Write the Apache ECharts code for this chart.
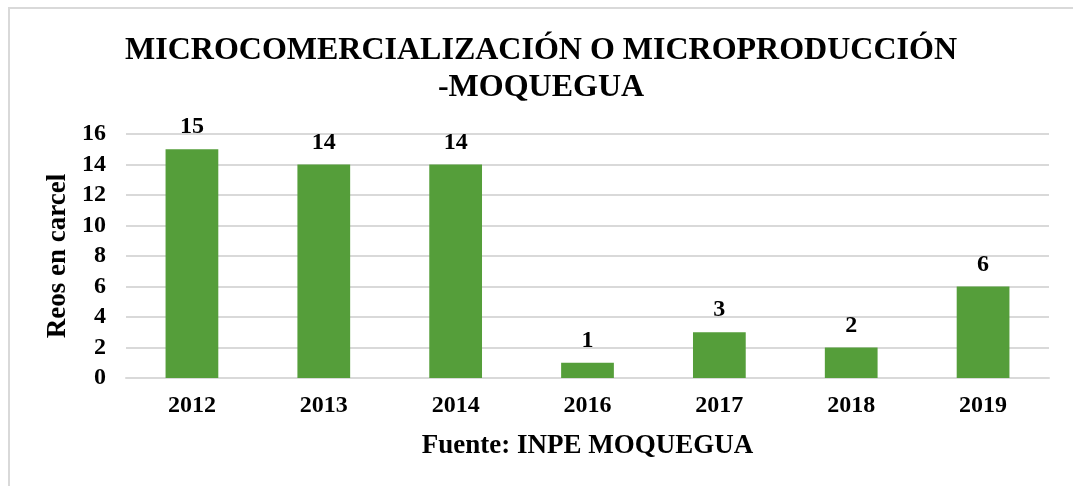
<!DOCTYPE html>
<html>
<head>
<meta charset="utf-8">
<script src="https://cdn.jsdelivr.net/npm/echarts@6/dist/echarts.min.js"></script>
<style>
  html, body { margin: 0; padding: 0; background: #fff; }
  #chart { width: 1073px; height: 486px; }
</style>
</head>
<body>
<div id="chart"></div>
<script>
// datos
var years = ['2012', '2013', '2014', '2016', '2017', '2018', '2019']
var reos = [15, 14, 14, 1, 3, 2, 6]
var yTicks = [0, 2, 4, 6, 8, 10, 12, 14, 16]

var serif = 'Liberation Serif, Times New Roman, serif'

var chart = echarts.init(document.getElementById('chart'))
chart.setOption({
  animation: false,
  title: {
    text: 'MICROCOMERCIALIZACIÓN O MICROPRODUCCIÓN\n-MOQUEGUA',
    left: 536,
    top: 27,
    textAlign: 'center',
    textStyle: {
      fontFamily: serif,
      fontWeight: 'bold',
      fontSize: 32,
      lineHeight: 37,
      color: '#000'
    }
  },
  graphic: [
    {
      type: 'rect',
      shape: { x: 9, y: 8, width: 1200, height: 600 },
      style: { fill: 'none', stroke: '#d9d9d9', lineWidth: 2 },
      silent: true,
      z: -10
    }
  ],
  grid: {
    left: 126,
    right: 24,
    top: 134,
    bottom: 108
  },
  xAxis: {
    type: 'category',
    data: years,
    name: 'Fuente: INPE MOQUEGUA',
    nameLocation: 'middle',
    nameGap: 55,
    nameTextStyle: {
      fontFamily: serif,
      fontWeight: 'bold',
      fontSize: 27,
      color: '#000'
    },
    axisLine: { lineStyle: { color: '#d9d9d9', width: 2 } },
    axisTick: { show: false },
    axisLabel: {
      margin: 16,
      fontFamily: serif,
      fontWeight: 'bold',
      fontSize: 24,
      color: '#000'
    }
  },
  yAxis: {
    type: 'value',
    min: yTicks[0],
    max: yTicks[yTicks.length - 1],
    interval: 2,
    name: 'Reos en carcel',
    nameLocation: 'middle',
    nameRotate: 90,
    nameGap: 52,
    nameTextStyle: {
      fontFamily: serif,
      fontWeight: 'bold',
      fontSize: 27,
      color: '#000'
    },
    axisLine: { show: false },
    axisTick: { show: false },
    axisLabel: {
      margin: 20,
      fontFamily: serif,
      fontWeight: 'bold',
      fontSize: 24,
      color: '#000'
    },
    splitLine: { lineStyle: { color: '#d9d9d9', width: 2 } }
  },
  series: [
    {
      type: 'bar',
      data: reos,
      barWidth: '40%',
      itemStyle: { color: '#559E3A' },
      label: {
        show: true,
        position: 'top',
        distance: 10,
        fontFamily: serif,
        fontWeight: 'bold',
        fontSize: 24,
        color: '#000'
      }
    }
  ]
})
</script>
</body>
</html>
